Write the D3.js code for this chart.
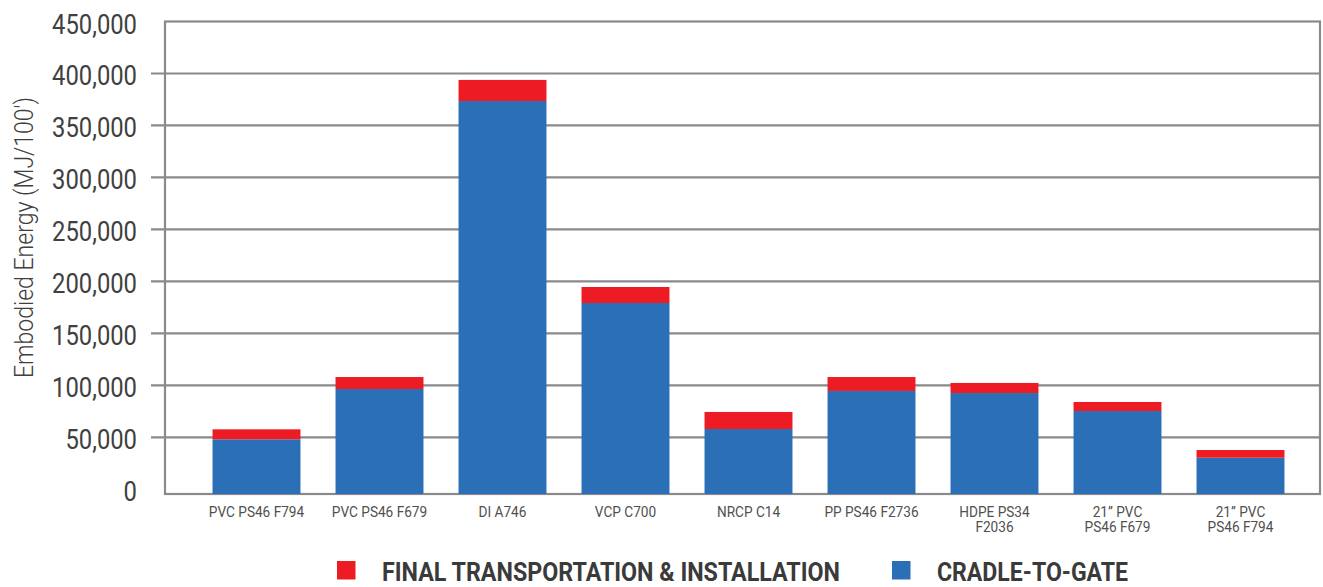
<!DOCTYPE html>
<head>
  <meta charset="utf-8">
  <script src="https://d3js.org/d3.v7.min.js"></script>
  <style>
    body { margin:0; background:#fff; }
    text { font-family: Roboto, "Liberation Sans", sans-serif; }
  </style>
</head>

<body>
  <script>
    // pipe types (second line used when the label wraps)
    var pipes = [
      ["PVC PS46 F794"],
      ["PVC PS46 F679"],
      ["DI A746"],
      ["VCP C700"],
      ["NRCP C14"],
      ["PP PS46 F2736"],
      ["HDPE PS34", "F2036"],
      ["21\u201d PVC", "PS46 F679"],
      ["21\u201d PVC", "PS46 F794"]
    ]
    var cradleToGate = [48100, 96500, 373500, 179200, 58000, 94600, 92600, 75300, 30400]
    var transportInstall = [9600, 11500, 20300, 15400, 16400, 13400, 9700, 8700, 7400]
    var yTicks = [0, 50000, 100000, 150000, 200000, 250000, 300000, 350000, 400000, 450000]
    var seriesNames = ["FINAL TRANSPORTATION & INSTALLATION", "CRADLE-TO-GATE"]
    var seriesColors = ["#ed1c24", "#2b70b7"]

    var svg = d3.select("body").append("svg")
      .attr("width", 1323)
      .attr("height", 587)

    var plotLeft = 165, plotRight = 1320, plotTop = 21.5
    var gridColor = "#8a8a8c"
    var narrow = 0.85   // squeeze Roboto toward the condensed face of the original

    var x = d3.scaleBand().domain(d3.range(pipes.length))
      .range([195, 1302]).paddingInner(0.285).paddingOuter(0.1425)
    var y = d3.scaleLinear().domain([0, 450000]).range([489.3, plotTop])
    var base = y(0) + 4.7   // frame bottom sits a little under the zero value

    // gridlines with outer ticks
    svg.selectAll(".grid").data(yTicks.filter(function(d){ return d > 0 && d < 450000 }))
      .enter().append("line")
      .attr("x1", 151).attr("x2", plotRight)
      .attr("y1", function(d){ return y(d) }).attr("y2", function(d){ return y(d) })
      .attr("stroke", gridColor).attr("stroke-width", 2.2)

    // frame
    svg.append("rect")
      .attr("x", plotLeft).attr("y", y(450000))
      .attr("width", plotRight - plotLeft).attr("height", base - y(450000))
      .attr("fill", "none").attr("stroke", gridColor).attr("stroke-width", 2.2)

    // stacked bars
    var g = svg.selectAll(".bar").data(pipes).enter().append("g")
    g.append("rect")
      .attr("x", function(d,i){ return x(i) })
      .attr("width", x.bandwidth())
      .attr("y", function(d,i){ return y(cradleToGate[i]) })
      .attr("height", function(d,i){ return base - y(cradleToGate[i]) })
      .attr("fill", seriesColors[1])
    g.append("rect")
      .attr("x", function(d,i){ return x(i) })
      .attr("width", x.bandwidth())
      .attr("y", function(d,i){ return y(cradleToGate[i] + transportInstall[i]) })
      .attr("height", function(d,i){ return y(cradleToGate[i]) - y(cradleToGate[i] + transportInstall[i]) })
      .attr("fill", seriesColors[0])

    // y tick labels
    svg.selectAll(".ylab").data(yTicks).enter().append("text")
      .attr("transform", function(d){ return "translate(137," + (y(d) + 12) + ") scale(" + narrow + ",1)" })
      .attr("text-anchor", "end")
      .attr("font-size", 28).attr("fill", "#404040")
      .text(d3.format(","))

    // y title
    svg.append("text")
      .attr("transform", "translate(33,237.5) rotate(-90)")
      .attr("text-anchor", "middle")
      .attr("font-size", 25).attr("font-weight", 300).attr("fill", "#404040")
      .attr("textLength", 281).attr("lengthAdjust", "spacingAndGlyphs")
      .text("Embodied Energy (MJ/100')")

    // x labels
    var xl = svg.selectAll(".xlab").data(pipes).enter().append("text")
      .attr("transform", function(d,i){ return "translate(" + (x(i) + x.bandwidth()/2) + ",517) scale(" + (narrow + 0.03) + ",1)" })
      .attr("text-anchor", "middle")
      .attr("font-size", 15.5).attr("fill", "#505050")
    xl.selectAll("tspan").data(function(d){ return d })
      .enter().append("tspan")
      .attr("x", 0)
      .attr("y", function(d,j){ return j*15.5 })
      .text(function(d){ return d })

    // legend
    var legX = [337, 892], legW = [458, 191]
    seriesNames.forEach(function(name, i){
      svg.append("rect").attr("x", legX[i]).attr("y", 561)
        .attr("width", 18.5).attr("height", 18.5).attr("fill", seriesColors[i])
      svg.append("text").attr("x", legX[i] + 45).attr("y", 581)
        .attr("font-size", 25).attr("font-weight", "bold").attr("fill", "#3a3a3a")
        .attr("textLength", legW[i]).attr("lengthAdjust", "spacingAndGlyphs")
        .text(name)
    })
  </script>
</body>
